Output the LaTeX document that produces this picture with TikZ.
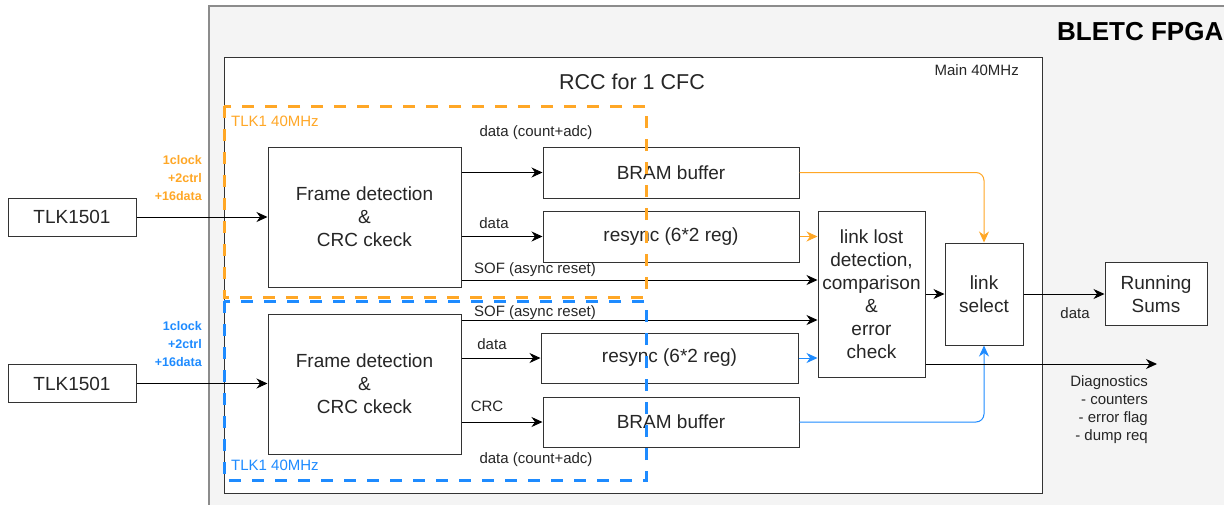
\documentclass[tikz,border=0pt]{standalone}
\usepackage{fontspec}
\setmainfont{Liberation Sans}
\usetikzlibrary{arrows.meta,positioning}
\definecolor{fpgafill}{HTML}{F4F4F4}
\definecolor{fpgaline}{HTML}{8C8C8C}
\definecolor{boxline}{HTML}{333333}
\definecolor{txt}{HTML}{262626}
\definecolor{tlkorange}{HTML}{FFA726}
\definecolor{tlkblue}{HTML}{1E8BFF}
\tikzset{
  basic/.style  = {draw=boxline, fill=white, line width=1pt, rectangle, text=txt,
                   align=center, inner sep=0pt, font=\fontsize{19}{23}\selectfont},
  tlk/.style    = {basic, minimum width=128pt, minimum height=38pt},
  fdbox/.style  = {basic, minimum width=193pt, minimum height=140pt},
  stage/.style  = {basic, minimum width=256pt, minimum height=51pt},
  lbl/.style    = {text=txt, inner sep=0pt, font=\fontsize{15}{18}\selectfont},
  sig/.style    = {inner sep=0pt, align=right, font=\bfseries\fontsize{12.5}{18}\selectfont},
  clkdomain/.style = {line width=3pt, dash pattern=on 12pt off 11pt},
  wire/.style   = {draw=black, line width=1pt, -{Stealth[length=11pt,width=10pt,inset=3.5pt]}}
}

\begin{document}
\begin{tikzpicture}[x=1pt, y=-1pt]
\useasboundingbox (0,0) rectangle (1224,504);

% FPGA and RCC frames
\draw[fill=fpgafill, draw=fpgaline, line width=1.5pt] (209,6) rectangle (1240,520);
\node[anchor=west, inner sep=0pt, font=\bfseries\fontsize{26}{30}\selectfont] (fpga) at (1057,32) {BLETC FPGA};
\draw[fill=white, draw=boxline, line width=1pt] (224,57) rectangle (1042,493);
\node[lbl, anchor=east] (main) at (1019,70) {Main 40MHz};
\node[lbl, font=\fontsize{21.5}{26}\selectfont] (rcc) at (632,82) {RCC for 1 CFC};

% link 1
\node[tlk] (tlk1) at (72,217) {TLK1501};
\node[fdbox] (fd1) at (364.5,217) {Frame detection\\\&\\CRC ckeck};
\node[stage] (bram1) at (671,172.5) {BRAM buffer};
\node[stage, below of=bram1, node distance=64pt] (rs1) {resync (6*2 reg)};

% link 2
\node[tlk] (tlk2) at (72,383.5) {TLK1501};
\node[fdbox, below of=fd1, node distance=167pt] (fd2) {Frame detection\\\&\\CRC ckeck};
\node[stage, minimum width=257pt, minimum height=50pt] (rs2) at (669.5,358) {resync (6*2 reg)};
\node[stage, minimum height=50pt] (bram2) at (671,422) {BRAM buffer};

% merge
\node[basic, minimum width=107pt, minimum height=166pt] (ll) at (871.5,294) {link lost\\detection,\\comparison\\\&\\error\\check};
\node[basic, minimum width=78pt, minimum height=102pt, right=19pt of ll] (sel) {link\\select};
\node[basic, minimum width=102pt, minimum height=63pt] (sums) at (1156,294) {Running\\Sums};
\coordinate (diag) at (1157,364);

% labels
\node[sig, text=tlkorange, anchor=east] (sig1) at (202,178) {1clock\\+2ctrl\\+16data};
\node[sig, text=tlkblue, anchor=east] (sig2) at (202,344) {1clock\\+2ctrl\\+16data};
\node[lbl] (l-dca1) at (536,133) {data (count+adc)};
\node[lbl] (l-data1) at (494,223) {data};
\node[lbl] (l-sof1) at (535,270) {SOF (async reset)};
\node[lbl] (l-sof2) at (535,313) {SOF (async reset)};
\node[lbl] (l-data2) at (492,344) {data};
\node[lbl] (l-crc) at (487,406) {CRC};
\node[lbl] (l-dca2) at (536,460) {data (count+adc)};
\node[lbl] (l-out) at (1075,313) {data};
\node[lbl, anchor=east, align=right] (l-diag) at (1148,410) {Diagnostics\\- counters\\- error flag\\- dump req};

% connections
\foreach \n in {1,2}
  \draw[wire] (tlk\n.east) -- (tlk\n.east -| fd\n.west);

\draw[wire] (fd1.east |- bram1.west) -- (bram1.west);
\draw[wire] (fd1.east |- rs1.west) -- (rs1.west);
\draw[wire] ([yshift=-63pt]fd1.east) coordinate (s1) -- (s1 -| ll.west);
\draw[wire] ([yshift=64pt]fd2.east) coordinate (s2) -- (s2 -| ll.west);
\draw[wire] (fd2.east |- rs2.west) -- (rs2.west);
\draw[wire] (fd2.east |- bram2.west) -- (bram2.west);

\draw[wire, draw=tlkorange, tlkorange] (rs1.east) -- (rs1.east -| ll.west);
\draw[wire, draw=tlkorange, tlkorange, rounded corners=8pt] (bram1.east) -| (sel.north);
\draw[wire, draw=tlkblue, tlkblue] (rs2.east) -- (rs2.east -| ll.west);
\draw[wire, draw=tlkblue, tlkblue, rounded corners=8pt] (bram2.east) -| (sel.south);

\draw[wire] (ll.east) -- (sel.west);
\draw[wire] (sel.east) -- (sel.east -| sums.west);
\draw[wire] (ll.east |- diag) -- (diag);

% clock domains
\draw[clkdomain, draw=tlkorange] (224,106) rectangle (646,297);
\draw[clkdomain, draw=tlkblue] (224,301) rectangle (646,480);
\node[lbl, text=tlkorange, anchor=west] (dom1) at (231,121) {TLK1 40MHz};
\node[lbl, text=tlkblue, anchor=west] (dom2) at (231,465) {TLK1 40MHz};
\end{tikzpicture}
\end{document}
